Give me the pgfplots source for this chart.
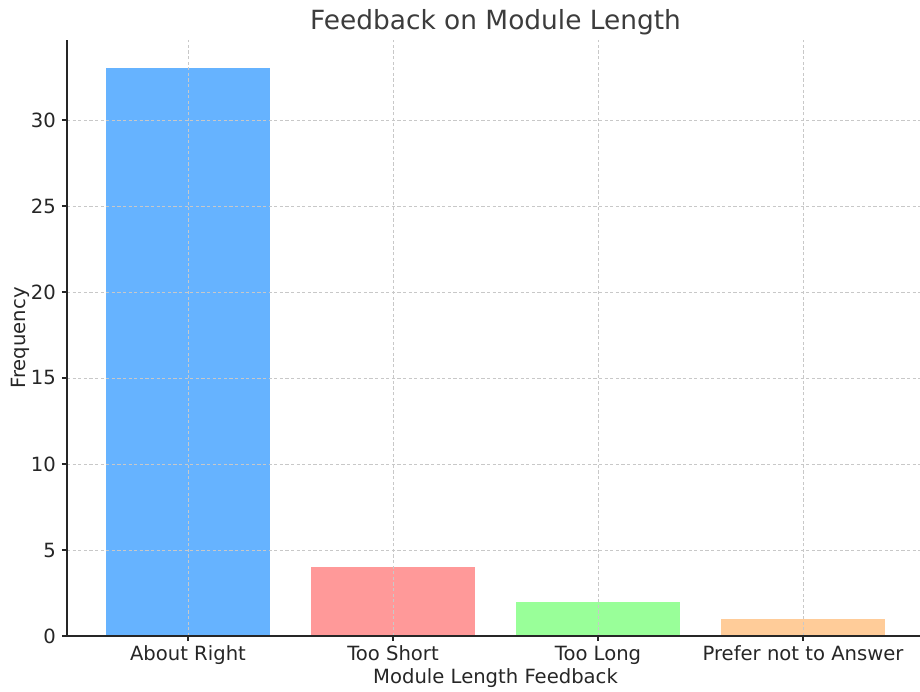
\documentclass[border=0pt]{standalone}
\usepackage{fontspec}
\setmainfont{DejaVu Sans}
\usepackage{pgfplots}
\pgfplotsset{compat=1.18}
\definecolor{cA}{HTML}{66B3FF}
\definecolor{cB}{HTML}{FF9999}
\definecolor{cC}{HTML}{99FF99}
\definecolor{cD}{HTML}{FFCC99}
\definecolor{txt}{HTML}{262626}
\definecolor{gridc}{HTML}{C8C8C8}
\begin{document}
\begin{tikzpicture}
\begin{axis}[
  name=ax,
  scale only axis,
  width=428.5pt, height=298pt,
  xmin=-0.59, xmax=3.59,
  ymin=0, ymax=34.65,
  axis lines*=left,
  axis line style={line width=0.8pt, color=txt, -},
  xtick={0,1,2,3},
  xticklabels={About Right, Too Short, Too Long, Prefer not to Answer},
  ytick={0,5,10,15,20,25,30},
  tick align=outside,
  major tick length=2.5pt,
  tick style={line width=0.6pt, color=txt},
  /pgf/number format/assume math mode=true,
  ticklabel style={font=\fontsize{9.8}{11}\selectfont, text=txt},
  xticklabel style={yshift=1pt},
  yticklabel style={xshift=0.5pt},
  grid=major,
  grid style={dash pattern=on 1.6pt off 1.2pt, color=gridc, line width=0.4pt},
  axis on top,
  title={Feedback on Module Length},
  title style={font=\fontsize{13.2}{15}\selectfont, text=txt!90, yshift=-7pt},
  xlabel={Module Length Feedback},
  ylabel={Frequency},
  label style={font=\fontsize{9.8}{11}\selectfont, text=txt},
  xlabel style={yshift=5pt},
  ylabel style={yshift=-6pt},
  clip=false,
]
\addplot[ybar, bar width=0.8, fill=cA, draw=none] coordinates {(0,33)};
\addplot[ybar, bar width=0.8, fill=cB, draw=none] coordinates {(1,4)};
\addplot[ybar, bar width=0.8, fill=cC, draw=none] coordinates {(2,2)};
\addplot[ybar, bar width=0.8, fill=cD, draw=none] coordinates {(3,1)};
\end{axis}
\pgfresetboundingbox
\path[use as bounding box] (ax.south west) ++(-33.5pt,-27.5pt) rectangle ++(460pt,345.5pt);
\end{tikzpicture}
\end{document}
